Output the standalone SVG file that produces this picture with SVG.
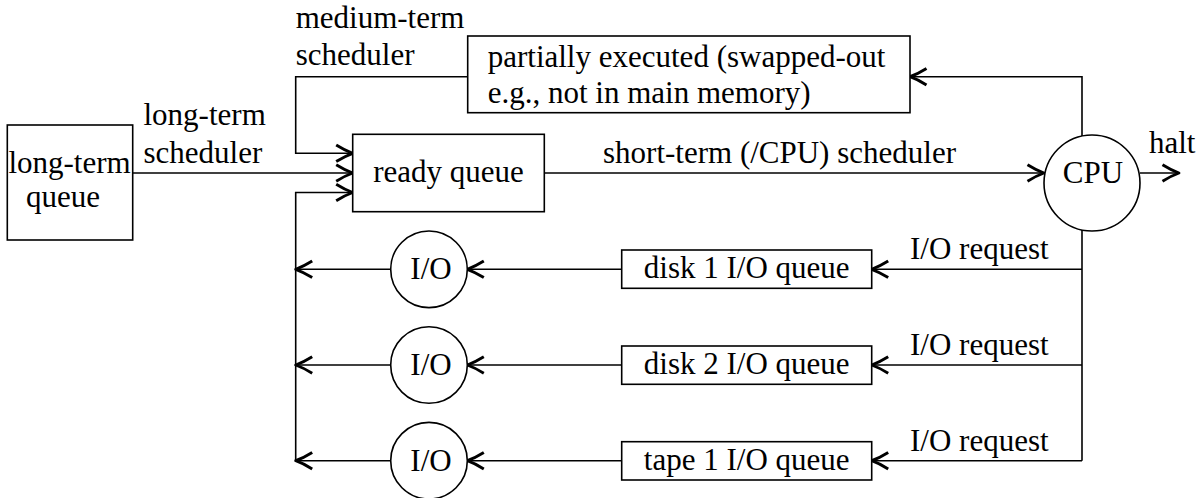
<svg xmlns="http://www.w3.org/2000/svg" width="1202" height="498" viewBox="0 0 1202 498">
<style>
text{font-family:"Liberation Serif","Times New Roman",serif;font-size:31px;fill:#000}
.box{fill:#fff;stroke:#000;stroke-width:1.6}
.c{text-anchor:middle}
.ln{fill:none;stroke:#000;stroke-width:1.6}
.ar{marker-end:url(#ah)}
</style>
<defs>
<marker id="ah" markerUnits="userSpaceOnUse" markerWidth="22" markerHeight="22" viewBox="-18 -10 20 20" refX="0" refY="0" orient="auto" overflow="visible">
<path d="M-15,-7.5 Q-7,-2.5 0,0 Q-7,2.5 -15,7.5" fill="none" stroke="#000" stroke-width="2.6" stroke-linejoin="round"/>
</marker>
</defs>
<rect width="1202" height="498" fill="#fff"/>
<g id="connectors">
<path class="ln ar" d="M132.7,173 H352.7"/>
<path class="ln ar" d="M467.7,76.7 H295.7 V153.3 H352.7"/>
<path class="ln ar" d="M295.7,460.7 V192.5 H352.7"/>
<path class="ln ar" d="M544.3,173 H1044"/>
<path class="ln ar" d="M1082,136 V76.7 H910"/>
<path class="ln ar" d="M1140,173 H1179"/>
<path class="ln" d="M1082,230 V460.7"/>
<path class="ln ar" d="M1082,269.3 H871.7"/>
<path class="ln ar" d="M1082,365 H871.7"/>
<path class="ln ar" d="M1082,460.7 H871.7"/>
<path class="ln ar" d="M621.7,269.3 H467.3"/>
<path class="ln ar" d="M621.7,365 H467.3"/>
<path class="ln ar" d="M621.7,460.7 H467.3"/>
<path class="ln ar" d="M390.7,269.3 H295.7"/>
<path class="ln ar" d="M390.7,365 H295.7"/>
<path class="ln ar" d="M390.7,460.7 H295.7"/>
<text x="143.5" y="125">long-term</text>
<text x="143.5" y="163">scheduler</text>
<text x="295.7" y="28">medium-term</text>
<text x="295.7" y="65">scheduler</text>
<text x="603" y="163.3">short-term (/CPU) scheduler</text>
<text x="1149" y="153.3">halt</text>
<text x="910" y="259.3">I/O request</text>
<text x="910" y="355">I/O request</text>
<text x="910" y="450.7">I/O request</text>
</g>
<g id="long-term-queue">
<rect class="box" x="7.3" y="125" width="125.4" height="115"/>
<text x="69.5" y="172.5" class="c">long-term</text>
<text x="63" y="207" class="c">queue</text>
</g>
<g id="partially-executed">
<rect class="box" x="467.7" y="36" width="442.3" height="76.7"/>
<text x="487.7" y="66.7">partially executed (swapped-out</text>
<text x="487.7" y="103.3">e.g., not in main memory)</text>
</g>
<g id="ready-queue">
<rect class="box" x="352.7" y="134.3" width="191.6" height="77.4"/>
<text x="448.5" y="181.7" class="c">ready queue</text>
</g>
<g id="cpu">
<circle class="box" cx="1092" cy="183" r="48"/>
<text x="1093" y="183" class="c">CPU</text>
</g>
<g id="disk1-queue">
<rect class="box" x="621.7" y="250" width="250" height="38.3"/>
<text x="746.7" y="278.3" class="c">disk 1 I/O queue</text>
</g>
<g id="disk2-queue">
<rect class="box" x="621.7" y="346" width="250" height="38.3"/>
<text x="746.7" y="374" class="c">disk 2 I/O queue</text>
</g>
<g id="tape1-queue">
<rect class="box" x="621.7" y="441.7" width="250" height="38.3"/>
<text x="746.7" y="469.7" class="c">tape 1 I/O queue</text>
</g>
<g id="io1">
<circle class="box" cx="429" cy="269.3" r="38.3"/>
<text x="431" y="279.3" class="c">I/O</text>
</g>
<g id="io2">
<circle class="box" cx="429" cy="365" r="38.3"/>
<text x="431" y="375" class="c">I/O</text>
</g>
<g id="io3">
<circle class="box" cx="429" cy="460.7" r="38.3"/>
<text x="431" y="470.7" class="c">I/O</text>
</g>
</svg>
